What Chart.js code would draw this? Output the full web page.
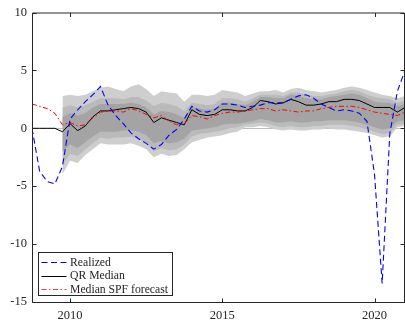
<!DOCTYPE html>
<html>
<head>
<meta charset="utf-8">
<script src="https://cdn.jsdelivr.net/npm/chart.js@4.4.1/dist/chart.umd.min.js"></script>
<style>
  html, body { margin: 0; padding: 0; background: #ffffff; }
  #wrap { width: 405px; height: 326px; }
</style>
</head>
<body>
<div id="wrap"><canvas id="c" width="405" height="326"></canvas></div>
<script>
// Quarterly dates (decimal years)
const dates = [
  2008.75, 2009.00, 2009.25, 2009.50, 2009.75, 2010.00, 2010.25, 2010.50, 2010.75, 2011.00,
  2011.25, 2011.50, 2011.75, 2012.00, 2012.25, 2012.50, 2012.75, 2013.00, 2013.25, 2013.50,
  2013.75, 2014.00, 2014.25, 2014.50, 2014.75, 2015.00, 2015.25, 2015.50, 2015.75, 2016.00,
  2016.25, 2016.50, 2016.75, 2017.00, 2017.25, 2017.50, 2017.75, 2018.00, 2018.25, 2018.50,
  2018.75, 2019.00, 2019.25, 2019.50, 2019.75, 2020.00, 2020.25, 2020.50, 2020.75, 2021.00
];

// Realized growth
const realized = [
   0.0, -3.7, -4.6, -4.8, -3.3,  0.8,  1.6,  2.3,  2.9,  3.6,
   2.0,  1.1,  0.4, -0.4, -0.9, -1.3, -1.8, -1.4, -0.6, -0.1,
   0.8,  1.9,  1.5,  1.4,  1.6,  2.1,  2.1,  2.0,  1.8,  1.9,
   2.0,  2.2,  2.2,  2.2,  2.5,  2.8,  2.9,  2.6,  2.1,  1.8,
   1.5,  1.6,  1.5,  1.3,  0.6, -4.0, -13.4, -0.5, 3.2,  5.0
];

// Quantile-regression median
const qrMedian = [
   0.0,  0.0,  0.0,  0.0, -0.3,  0.4, -0.2,  0.2,  1.0,  1.5,
   1.5,  1.6,  1.7,  1.8,  1.7,  1.4,  0.5,  0.9,  0.7,  0.5,
   0.3,  1.6,  1.2,  1.1,  1.2,  1.6,  1.6,  1.5,  1.5,  1.8,
   2.4,  2.3,  2.1,  2.2,  2.5,  2.3,  2.0,  2.0,  2.1,  2.3,
   2.3,  2.5,  2.5,  2.4,  2.1,  1.8,  1.8,  1.8,  1.4,  1.8
];

// Median SPF forecast
const spfMedian = [
   2.1,  1.9,  1.7,  1.3,  0.3,  0.5,  0.2,  0.3,  0.9,  1.4,
   1.5,  1.5,  1.4,  1.7,  1.5,  1.2,  0.9,  1.1,  0.6,  0.3,
   0.4,  1.1,  1.0,  0.8,  1.1,  1.3,  1.4,  1.4,  1.5,  1.6,
   1.7,  1.7,  1.5,  1.6,  1.5,  1.4,  1.5,  1.5,  1.7,  1.8,
   1.9,  1.9,  1.9,  1.8,  1.6,  1.4,  1.3,  1.2,  1.1,  1.4
];

// Predictive quantile bands (outer, middle, inner)
const outerHigh = [
  null, null, null, null,  2.8,  2.9,  2.8,  2.9,  3.2,  3.5,
   3.6,  3.4,  3.2,  3.6,  3.8,  3.4,  2.8,  3.2,  3.1,  3.0,
   2.3,  2.9,  2.9,  2.8,  2.9,  3.3,  3.2,  3.1,  2.8,  3.0,
   3.2,  3.2,  3.3,  3.1,  3.4,  3.5,  3.3,  3.2,  3.1,  3.2,
   3.3,  3.5,  3.6,  3.5,  3.3,  3.1,  2.9,  2.8,  2.6,  2.8
];
const outerLow = [
  null, null, null, null, -4.0, -2.8, -3.0, -2.3, -1.8, -1.3,
  -1.4, -1.4, -1.4, -1.3, -1.5, -1.8, -2.5, -2.2, -2.4, -2.3,
  -1.8, -1.2, -1.0, -0.8, -0.7, -0.6, -0.4, -0.3,  0.1,  0.1,
   0.2,  0.1, -0.1, -0.2, -0.1, -0.2, -0.2, -0.1, -0.1,  0.0,
  -0.1, -0.1, -0.2, -0.3, -0.4, -0.6, -0.8, -0.7,  0.1,  0.2
];
const midHigh = [
  null, null, null, null,  1.8,  2.0,  1.8,  2.0,  2.3,  2.6,
   2.6,  2.6,  2.5,  2.7,  2.7,  2.4,  1.9,  2.2,  2.1,  1.9,
   1.5,  2.2,  2.1,  2.0,  2.1,  2.6,  2.6,  2.5,  2.3,  2.6,
   2.9,  2.9,  2.9,  2.8,  3.1,  3.1,  2.9,  2.8,  2.8,  2.9,
   3.0,  3.2,  3.3,  3.2,  2.9,  2.7,  2.6,  2.5,  2.2,  2.4
];
const midLow = [
  null, null, null, null, -3.1, -2.2, -2.4, -1.8, -1.3, -0.8,
  -0.9, -0.8, -0.8, -0.7, -0.9, -1.2, -2.0, -1.7, -1.9, -1.8,
  -1.4, -0.7, -0.5, -0.4, -0.3, -0.2,  0.0,  0.1,  0.3,  0.4,
   0.5,  0.4,  0.2,  0.1,  0.2,  0.1,  0.1,  0.2,  0.2,  0.3,
   0.3,  0.3,  0.2,  0.1, -0.1, -0.3, -0.5, -0.4,  0.3,  0.4
];
const innerHigh = [
  null, null, null, null,  1.0,  1.3,  1.1,  1.3,  1.8,  2.1,
   2.1,  2.1,  2.1,  2.2,  2.1,  1.8,  1.2,  1.5,  1.4,  1.2,
   0.9,  1.9,  1.7,  1.6,  1.7,  2.2,  2.2,  2.1,  2.0,  2.3,
   2.7,  2.7,  2.6,  2.6,  2.9,  2.8,  2.6,  2.5,  2.5,  2.7,
   2.8,  2.9,  3.0,  2.9,  2.6,  2.3,  2.2,  2.2,  1.9,  2.1
];
const innerLow = [
  null, null, null, null, -2.0, -1.4, -1.7, -1.2, -0.7, -0.3,
  -0.3, -0.3, -0.2, -0.2, -0.3, -0.6, -1.3, -1.1, -1.3, -1.2,
  -0.9, -0.2, -0.1,  0.0,  0.1,  0.3,  0.4,  0.4,  0.5,  0.6,
   0.8,  0.7,  0.5,  0.5,  0.6,  0.5,  0.5,  0.6,  0.6,  0.7,
   0.7,  0.7,  0.6,  0.5,  0.3,  0.1, -0.1,  0.0,  0.6,  0.7
];

// Axis ticks
const xTicks = [2010, 2015, 2020];
const yTicks = [-15, -10, -5, 0, 5, 10];

const serif = '"Liberation Serif", "Times New Roman", serif';
const inkColor = '#262626';

function series(vals) {
  return dates.map((d, i) => ({ x: d, y: vals[i] })).filter(p => p.y !== null);
}

function band(vals, color, fill, order) {
  return {
    data: series(vals), borderWidth: 0, borderColor: 'rgba(0,0,0,0)',
    backgroundColor: color, fill: fill, pointRadius: 0, order: order, tension: 0
  };
}

const legendItems = [
  { label: 'Realized', color: '#0000ff', dash: [6, 3.5], width: 1.1 },
  { label: 'QR Median', color: '#000000', dash: [], width: 1 },
  { label: 'Median SPF forecast', color: '#ff3b3b', dash: [5, 2.5, 1.5, 2.5], width: 1.2 }
];

// Light baseline at zero beneath the bands
const zeroLine = {
  id: 'zeroLine',
  beforeDatasetsDraw(chart) {
    const { ctx, chartArea, scales } = chart;
    const y = Math.round(scales.y.getPixelForValue(0)) + 0.5;
    ctx.save();
    ctx.strokeStyle = '#bdbdbd';
    ctx.lineWidth = 1;
    ctx.beginPath();
    ctx.moveTo(chartArea.left, y);
    ctx.lineTo(chartArea.right, y);
    ctx.stroke();
    ctx.restore();
  }
};

// Box frame with inward ticks on all four sides, then the legend
const frame = {
  id: 'frame',
  afterDraw(chart) {
    const { ctx, chartArea: a, scales } = chart;
    const L = a.left + 0.5, R = a.right - 0.5, T = a.top + 0.5, B = a.bottom + 0.5;
    const tl = 4;
    ctx.save();
    ctx.strokeStyle = inkColor;
    ctx.lineWidth = 1;
    ctx.beginPath();
    ctx.moveTo(L, T); ctx.lineTo(R, T); ctx.lineTo(R, B); ctx.lineTo(L, B); ctx.closePath();
    xTicks.forEach(v => {
      const x = Math.round(scales.x.getPixelForValue(v)) + 0.5;
      ctx.moveTo(x, B); ctx.lineTo(x, B - tl);
      ctx.moveTo(x, T); ctx.lineTo(x, T + tl);
    });
    yTicks.forEach(v => {
      const y = Math.round(scales.y.getPixelForValue(v)) + 0.5;
      ctx.moveTo(L, y); ctx.lineTo(L + tl, y);
      ctx.moveTo(R, y); ctx.lineTo(R - tl, y);
    });
    ctx.stroke();

    // legend box
    const bx = 38.5, by = 252.5, bw = 134, bh = 43;
    ctx.fillStyle = '#ffffff';
    ctx.fillRect(bx, by, bw, bh);
    ctx.strokeStyle = inkColor;
    ctx.strokeRect(bx, by, bw, bh);
    ctx.font = '11.7px ' + serif;
    ctx.textBaseline = 'middle';
    ctx.textAlign = 'left';
    legendItems.forEach((it, i) => {
      const y = by + 9.5 + i * 13.5;
      ctx.strokeStyle = it.color;
      ctx.lineWidth = it.width;
      ctx.setLineDash(it.dash);
      ctx.beginPath();
      ctx.moveTo(bx + 3, Math.round(y) + 0.5);
      ctx.lineTo(bx + 28, Math.round(y) + 0.5);
      ctx.stroke();
      ctx.setLineDash([]);
      ctx.fillStyle = inkColor;
      ctx.fillText(it.label, bx + 31.5, y + 0.5);
    });
    ctx.restore();
  }
};

new Chart(document.getElementById('c'), {
  type: 'line',
  data: {
    datasets: [
      band(outerHigh, '#cecece', '+1', 6),
      band(outerLow, '#cecece', false, 6),
      band(midHigh, '#bababa', '+1', 5),
      band(midLow, '#bababa', false, 5),
      band(innerHigh, '#a4a4a4', '+1', 4),
      band(innerLow, '#a4a4a4', false, 4),
      { label: 'QR Median', data: series(qrMedian), borderColor: '#000000', borderWidth: 1,
        pointRadius: 0, fill: false, order: 3, tension: 0 },
      { label: 'Median SPF forecast', data: series(spfMedian), borderColor: '#ff0000', borderWidth: 1,
        borderDash: [5, 2.5, 1.5, 2.5], pointRadius: 0, fill: false, order: 2, tension: 0 },
      { label: 'Realized', data: series(realized), borderColor: '#0000ff', borderWidth: 1.1,
        borderDash: [6, 3.5], pointRadius: 0, fill: false, order: 1, tension: 0 }
    ]
  },
  options: {
    responsive: false,
    animation: false,
    devicePixelRatio: 1,
    layout: { padding: { top: 9, right: 0, left: 0, bottom: 0 } },
    plugins: { legend: { display: false }, tooltip: { enabled: false } },
    scales: {
      x: {
        type: 'linear', min: 2008.75, max: 2021,
        grid: { display: false, drawTicks: false },
        border: { display: false },
        afterBuildTicks(scale) { scale.ticks = xTicks.map(v => ({ value: v })); },
        afterFit(scale) { scale.height = 24; },
        ticks: {
          padding: 6, color: inkColor, maxRotation: 0, autoSkip: false,
          font: { family: serif, size: 12.5 },
          callback: v => String(v)
        }
      },
      y: {
        min: -15, max: 10,
        grid: { display: false, drawTicks: false },
        border: { display: false },
        afterBuildTicks(scale) { scale.ticks = yTicks.map(v => ({ value: v })); },
        afterFit(scale) { scale.width = 32; },
        ticks: {
          padding: 5, color: inkColor,
          font: { family: serif, size: 12.5 },
          callback: v => String(v)
        }
      }
    }
  },
  plugins: [zeroLine, frame]
});
</script>
</body>
</html>
